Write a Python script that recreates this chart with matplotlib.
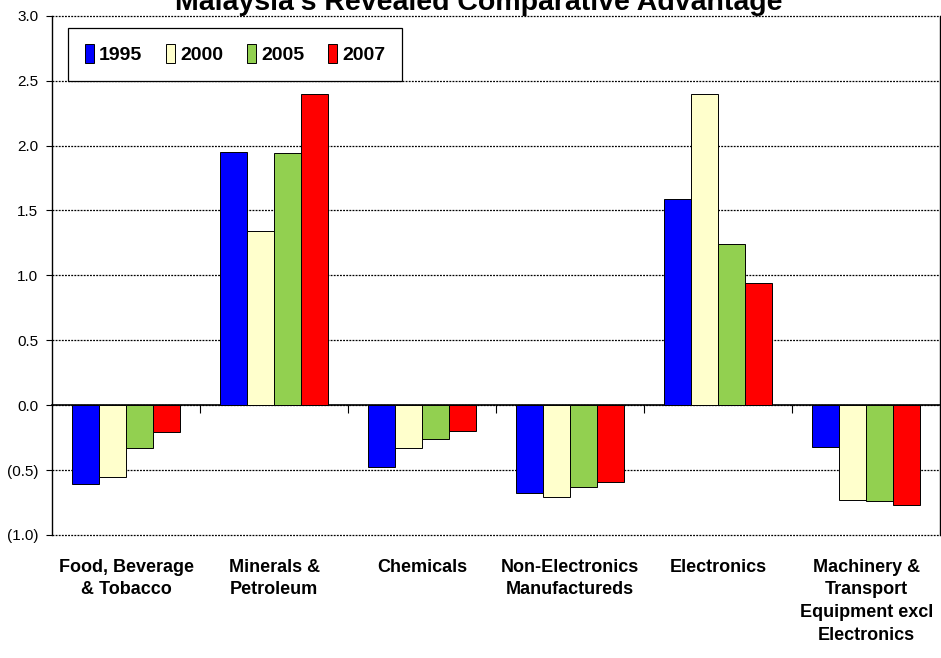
import numpy as np
import matplotlib.pyplot as plt
from matplotlib.ticker import FuncFormatter

plt.rcParams['font.family'] = ['Liberation Sans', 'DejaVu Sans']

categories = ['Food, Beverage\n& Tobacco', 'Minerals &\nPetroleum', 'Chemicals',
              'Non-Electronics\nManufactureds', 'Electronics',
              'Machinery &\nTransport\nEquipment excl\nElectronics']
years = ['1995', '2000', '2005', '2007']
rca_1995 = [-0.61, 1.95, -0.48, -0.68, 1.59, -0.32]
rca_2000 = [-0.55, 1.34, -0.33, -0.71, 2.40, -0.73]
rca_2005 = [-0.33, 1.94, -0.26, -0.63, 1.24, -0.74]
rca_2007 = [-0.21, 2.40, -0.20, -0.59, 0.94, -0.77]
colors = ['#0000FF', '#FFFFCC', '#92D050', '#FF0000']

series = [rca_1995, rca_2000, rca_2005, rca_2007]

fig = plt.figure(figsize=(9.41, 6.58), dpi=100)
ax = fig.add_axes([0.0553, 0.187, 0.944, 0.789])

x = np.arange(len(categories))
width = 0.182
for i, (vals, yr) in enumerate(zip(series, years)):
    ax.bar(x + (i - 1.5) * width, vals, width, color=colors[i], edgecolor='black',
           linewidth=0.7, label=yr, zorder=3)

ax.set_xlim(-0.5, len(categories) - 0.5)
ax.set_ylim(-1.0, 3.0)
ax.set_yticks(np.arange(-1.0, 3.01, 0.5))
ax.yaxis.set_major_formatter(FuncFormatter(lambda v, p: f'({abs(v):.1f})' if v < 0 else f'{v:.1f}'))
ax.tick_params(axis='y', labelsize=11, length=4, width=0.8, direction='out', pad=6)
ax.yaxis.grid(True, linestyle=(0, (1.5, 1)), color='black', linewidth=0.9, zorder=0)
ax.set_axisbelow(True)
for gl in ax.get_ygridlines():
    gl.set_clip_on(False)
for s in ['top', 'bottom']:
    ax.spines[s].set_visible(False)
ax.spines['left'].set_linewidth(1.0)
ax.spines['right'].set_linewidth(1.0)

# category labels
ax.set_xticks(x)
ax.set_xticklabels(categories, fontsize=13, fontweight='bold', linespacing=1.45)
ax.tick_params(axis='x', length=0, pad=17)

# zero line with boundary ticks
ylo, yhi = ax.get_ylim()
zero = ax.secondary_xaxis((0 - ylo) / (yhi - ylo))
zero.set_xticks(x[:-1] + 0.5)
zero.set_xticklabels([])
zero.tick_params(length=6, width=0.8, direction='out')
zero.spines['bottom'].set_linewidth(1.2)

leg = ax.legend(loc='upper left', bbox_to_anchor=(0.018, 0.977), borderaxespad=0, ncol=4,
                prop={'weight': 'bold', 'size': 14}, frameon=True, fancybox=False,
                edgecolor='black', framealpha=1, handlelength=0.5, handleheight=1.1,
                handletextpad=0.25, columnspacing=1.2, borderpad=0.85)
leg.get_frame().set_linewidth(0.9)

fig.text(0.509, 0.9848, "Malaysia's Revealed Comparative Advantage", ha='center',
         va='baseline', fontsize=20.5, fontweight='bold')

fig.savefig('out.png', dpi=100)
